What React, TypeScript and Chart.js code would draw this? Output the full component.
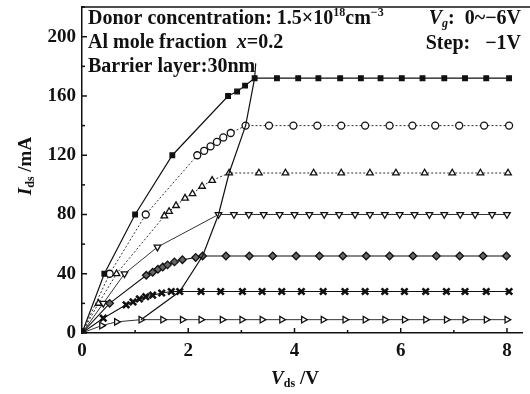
import { useEffect, useRef } from 'react';
import { Chart, registerables } from 'chart.js';

Chart.register(...registerables);

const xTickValues = [0, 2, 4, 6, 8];
const yTickValues = [0, 40, 80, 120, 160, 200];

// Vg = 0 V
const vg0X = [0, 0.42, 1.0, 1.7, 2.75, 2.92, 3.07, 3.25, 3.67, 4.07, 4.45, 4.86, 5.25, 5.62, 6.02, 6.41, 6.82, 7.21, 7.61, 8.04];
const vg0Y = [0, 40, 80, 120, 160, 163, 167, 172, 172, 172, 172, 172, 172, 172, 172, 172, 172, 172, 172, 172];
// Vg = -1 V
const vg1X = [0, 0.52, 1.2, 2.17, 2.3, 2.42, 2.54, 2.66, 2.8, 3.08, 3.52, 3.98, 4.43, 4.88, 5.33, 5.79, 6.22, 6.65, 7.1, 7.57, 8.04];
const vg1Y = [0, 40, 80, 120, 123, 126, 129, 132, 135, 140, 140, 140, 140, 140, 140, 140, 140, 140, 140, 140, 140];
// Vg = -2 V
const vg2X = [0, 0.31, 0.65, 1.55, 1.64, 1.77, 1.94, 2.08, 2.26, 2.45, 2.77, 3.33, 3.83, 4.36, 4.88, 5.42, 5.91, 6.45, 6.97, 7.5, 8.02];
const vg2Y = [0, 20, 40, 79, 82, 86, 91, 94, 99, 103, 108, 108, 108, 108, 108, 108, 108, 108, 108, 108, 108];
// Vg = -3 V
const vg3X = [0, 0.4, 0.8, 1.42, 2.57, 2.86, 3.14, 3.42, 3.72, 4.0, 4.28, 4.56, 4.84, 5.14, 5.42, 5.7, 5.98, 6.26, 6.54, 6.82, 7.12, 7.4, 7.72, 8.0];
const vg3Y = [0, 20, 40, 58, 80, 80, 80, 80, 80, 80, 80, 80, 80, 80, 80, 80, 80, 80, 80, 80, 80, 80, 80, 80];
// Vg = -4 V
const vg4X = [0, 0.52, 1.21, 1.33, 1.43, 1.52, 1.61, 1.74, 1.89, 2.14, 2.27, 2.71, 3.15, 3.59, 4.03, 4.47, 4.91, 5.35, 5.79, 6.23, 6.67, 7.11, 7.55, 7.99];
const vg4Y = [0, 20, 39, 41, 43, 44.5, 46, 48, 49.5, 51, 52, 52, 52, 52, 52, 52, 52, 52, 52, 52, 52, 52, 52, 52];
// Vg = -5 V
const vg5X = [0, 0.4, 0.83, 0.96, 1.08, 1.2, 1.33, 1.5, 1.68, 1.84, 2.24, 2.61, 3.02, 3.39, 3.76, 4.13, 4.54, 4.95, 5.33, 5.7, 6.07, 6.47, 6.86, 7.21, 7.61, 8.04];
const vg5Y = [0, 10, 19, 21, 23, 24.5, 25.5, 27, 28, 28, 28, 28, 28, 28, 28, 28, 28, 28, 28, 28, 28, 28, 28, 28, 28, 28];
// Vg = -6 V
const vg6X = [0, 0.37, 0.65, 1.11, 1.52, 1.89, 2.24, 2.64, 3.01, 3.39, 3.76, 4.17, 4.54, 4.95, 5.33, 5.7, 6.07, 6.47, 6.86, 7.21, 7.61, 8.0];
const vg6Y = [0, 5, 7.5, 9, 9, 9, 9, 9, 9, 9, 9, 9, 9, 9, 9, 9, 9, 9, 9, 9, 9, 9];
// saturation boundary (knee) line
const kneeX = [1.11, 1.84, 2.27, 2.57, 2.77, 3.08, 3.25, 3.27];
const kneeY = [9, 28, 52, 80, 108, 140, 172, 182];

const pts = (xs: number[], ys: number[]) => xs.map((x, i) => ({ x, y: ys[i] }));

const SERIF = '"Liberation Serif", "Times New Roman", serif';

type Part = { t: string; size: number; dy?: number; italic?: boolean; bold?: boolean };

function partFont(p: Part) {
  return `${p.italic ? 'italic ' : ''}${p.bold === false ? '' : 'bold '}${p.size}px ${SERIF}`;
}

function richWidth(ctx: CanvasRenderingContext2D, parts: Part[]) {
  let w = 0;
  for (const p of parts) {
    ctx.font = partFont(p);
    w += ctx.measureText(p.t).width;
  }
  return w;
}

function drawRich(ctx: CanvasRenderingContext2D, x: number, y: number, parts: Part[]) {
  let cx = x;
  ctx.textBaseline = 'alphabetic';
  ctx.textAlign = 'left';
  for (const p of parts) {
    ctx.font = partFont(p);
    ctx.fillText(p.t, cx, y + (p.dy || 0));
    cx += ctx.measureText(p.t).width;
  }
}

const decorPlugin = {
  id: 'decor',
  afterDraw(chart: any) {
    const { ctx, chartArea, scales } = chart;
    const xs = scales.x;
    const ys = scales.y;
    ctx.save();
    ctx.fillStyle = '#111';
    ctx.strokeStyle = '#111';
    // top frame line
    ctx.lineWidth = 1.5;
    ctx.beginPath();
    ctx.moveTo(chartArea.left, chartArea.top);
    ctx.lineTo(530, chartArea.top);
    ctx.stroke();
    // inward ticks on y axis
    for (let v = 0; v <= 220; v += 20) {
      const py = ys.getPixelForValue(v);
      const len = v % 40 === 0 ? 5 : 3;
      ctx.beginPath();
      ctx.moveTo(chartArea.left, py);
      ctx.lineTo(chartArea.left + len, py);
      ctx.stroke();
    }
    // inward ticks on x axis
    for (let v = 0; v <= 8; v += 1) {
      const px = xs.getPixelForValue(v);
      const len = v % 2 === 0 ? 5 : 3;
      ctx.beginPath();
      ctx.moveTo(px, chartArea.bottom);
      ctx.lineTo(px, chartArea.bottom - len);
      ctx.stroke();
    }
    // annotations
    const fs = 20;
    drawRich(ctx, 88, 24, [
      { t: 'Donor concentration: 1.5×10', size: fs },
      { t: '18', size: 12, dy: -8 },
      { t: 'cm', size: fs },
      { t: '−3', size: 12, dy: -8 },
    ]);
    drawRich(ctx, 88, 48, [
      { t: 'Al mole fraction  ', size: fs },
      { t: 'x', size: fs, italic: true },
      { t: '=0.2', size: fs },
    ]);
    drawRich(ctx, 88, 72, [{ t: 'Barrier layer:30nm', size: fs }]);
    const r1: Part[] = [
      { t: 'V', size: fs, italic: true },
      { t: 'g', size: 12, dy: 3, italic: true },
      { t: ':  0~−6V', size: fs },
    ];
    drawRich(ctx, 521 - richWidth(ctx, r1), 24, r1);
    const r2: Part[] = [{ t: 'Step:   −1V', size: fs }];
    drawRich(ctx, 521 - richWidth(ctx, r2), 49, r2);
    // x axis title
    const xt: Part[] = [
      { t: 'V', size: 19, italic: true },
      { t: 'ds', size: 12, dy: 3 },
      { t: ' /V', size: 19 },
    ];
    drawRich(ctx, 295 - richWidth(ctx, xt) / 2, 384, xt);
    // y axis title
    const yt: Part[] = [
      { t: 'I', size: 19, italic: true },
      { t: 'ds', size: 12, dy: 3 },
      { t: ' /mA', size: 19 },
    ];
    ctx.save();
    ctx.translate(31, 166);
    ctx.rotate(-Math.PI / 2);
    drawRich(ctx, -richWidth(ctx, yt) / 2, 0, yt);
    ctx.restore();
    ctx.restore();
  },
};

export default function App() {
  const ref = useRef<HTMLCanvasElement>(null);
  useEffect(() => {
    const black = '#111';
    const lineCol = '#333';
    const chart = new Chart(ref.current as HTMLCanvasElement, {
      type: 'line',
      data: {
        datasets: [
          {
            data: pts(kneeX, kneeY),
            borderColor: black,
            borderWidth: 1.2,
            pointRadius: 0,
          },
          {
            data: pts(vg0X, vg0Y),
            borderColor: black,
            borderWidth: 1.2,
            pointStyle: 'rect',
            pointRadius: 3.3,
            pointBackgroundColor: black,
            pointBorderColor: black,
          },
          {
            data: pts(vg1X, vg1Y),
            borderColor: lineCol,
            borderWidth: 1,
            borderDash: [2, 2],
            pointStyle: 'circle',
            pointRadius: 3.5,
            pointBorderWidth: 1.3,
            pointBackgroundColor: '#fff',
            pointBorderColor: black,
          },
          {
            data: pts(vg2X, vg2Y),
            borderColor: lineCol,
            borderWidth: 1,
            borderDash: [2, 2],
            pointStyle: 'triangle',
            pointRadius: 3.8,
            pointBorderWidth: 1.3,
            pointBackgroundColor: '#fff',
            pointBorderColor: black,
          },
          {
            data: pts(vg3X, vg3Y),
            borderColor: lineCol,
            borderWidth: 1,
            pointStyle: 'triangle',
            pointRotation: 180,
            pointRadius: 3.8,
            pointBorderWidth: 1.3,
            pointBackgroundColor: '#fff',
            pointBorderColor: black,
          },
          {
            data: pts(vg4X, vg4Y),
            borderColor: black,
            borderWidth: 1.1,
            pointStyle: 'rectRot',
            pointRadius: 3.8,
            pointBorderWidth: 1.3,
            pointBackgroundColor: '#666',
            pointBorderColor: black,
          },
          {
            data: pts(vg5X, vg5Y),
            borderColor: black,
            borderWidth: 1.1,
            pointStyle: 'crossRot',
            pointRadius: 4.5,
            pointBorderWidth: 2.6,
            pointBackgroundColor: black,
            pointBorderColor: black,
          },
          {
            data: pts(vg6X, vg6Y),
            borderColor: lineCol,
            borderWidth: 1,
            pointStyle: 'triangle',
            pointRotation: 90,
            pointRadius: 3.8,
            pointBorderWidth: 1.3,
            pointBackgroundColor: '#fff',
            pointBorderColor: black,
          },
        ],
      },
      options: {
        responsive: false,
        devicePixelRatio: 1,
        animation: false,
        layout: { padding: { top: 5, right: 3, left: 0, bottom: 0 } },
        plugins: {
          legend: { display: false },
          tooltip: { enabled: false },
        },
        elements: { line: { tension: 0 } },
        scales: {
          x: {
            type: 'linear',
            min: 0,
            max: 8.3,
            afterFit: (s: any) => {
              s.height = 61;
              s.paddingLeft = 0;
              s.paddingRight = 0;
            },
            afterBuildTicks: (s: any) => {
              s.ticks = xTickValues.map((v) => ({ value: v }));
            },
            grid: { drawOnChartArea: false, drawTicks: false },
            border: { display: true, color: '#111', width: 1.5 },
            ticks: {
              padding: 7,
              color: '#111',
              maxRotation: 0,
              font: { family: SERIF, size: 19, weight: 'bold' },
            },
          },
          y: {
            type: 'linear',
            min: 0,
            max: 220,
            afterFit: (s: any) => {
              s.width = 82;
              s.paddingTop = 0;
              s.paddingBottom = 0;
            },
            afterBuildTicks: (s: any) => {
              s.ticks = yTickValues.map((v) => ({ value: v }));
            },
            grid: { drawOnChartArea: false, drawTicks: false },
            border: { display: true, color: '#111', width: 1.5 },
            ticks: {
              padding: 6,
              color: '#111',
              font: { family: SERIF, size: 19, weight: 'bold' },
            },
          },
        },
      },
      plugins: [decorPlugin],
    } as any);
    return () => chart.destroy();
  }, []);
  return (
    <div style={{ position: 'absolute', left: 0, top: 0, width: 530, height: 394, background: '#fff' }}>
      <canvas ref={ref} width={530} height={394} style={{ display: 'block', width: 530, height: 394 }} />
    </div>
  );
}
